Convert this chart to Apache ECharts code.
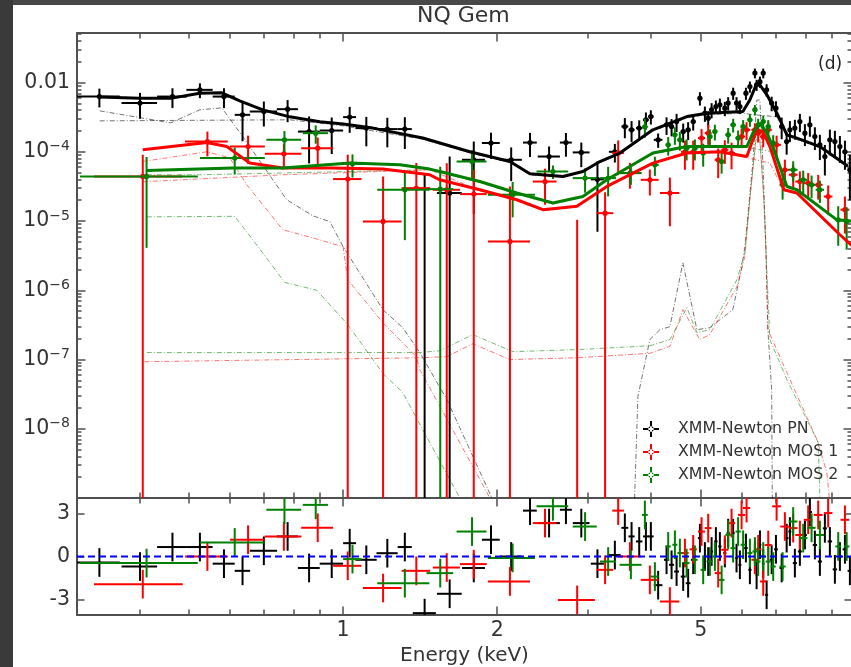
<!DOCTYPE html>
<html>
<head>
<meta charset="utf-8">
<title>NQ Gem</title>
<script src="https://cdn.jsdelivr.net/npm/echarts@6/dist/echarts.min.js"></script>
<style>
    html, body { margin: 0; padding: 0; background: #484848; }
    #strip { position: absolute; left: 0; top: 0; width: 13px; height: 667px; background: #3a3a3a; }
    #paper { position: absolute; left: 13px; top: 5px; width: 838px; height: 662px; background: #ffffff; }
    #chart { position: absolute; left: 0; top: 0; width: 851px; height: 667px; }
</style>
</head>
<body>
<div id="strip"></div>
<div id="paper"></div>
<div id="chart"></div>
<script>
// ---- axis ranges and tick labels ----
var xMin = 0.302, xMax = 9.87;
var fluxMin = 1e-9, fluxMax = 5.2e-3;
var resMin = -4.08, resMax = 4.08;

var energyTicks = [1, 2, 5];
var energyTickText = ['1', '2', '5'];
var energyMinor = [0.4, 0.5, 0.6, 0.7, 0.8, 0.9, 3, 4, 6, 7, 8, 9];
var fluxTicks = [1e-3, 1e-4, 1e-5, 1e-6, 1e-7, 1e-8];
var fluxTickText = ['0.01', '10^\u22124', '10^\u22125', '10^\u22126', '10^\u22127', '10^\u22128'];
var resTicks = [3, 0, -3];
var resTickText = ['3', '0', '-3'];

// ---- XMM-Newton PN (black) : energy, half bin width, flux, flux error, residual ----
var pnE = [0.334, 0.401, 0.464, 0.525, 0.585, 0.636, 0.70, 0.779, 0.858, 0.95, 1.03, 1.11, 1.22, 1.32, 1.443, 1.615, 1.80, 1.945, 2.13, 2.318, 2.526, 2.725, 2.92, 3.14,
    3.396, 3.552, 3.661, 3.789, 3.905, 3.993, 4.126, 4.285, 4.383, 4.483, 4.618, 4.722, 4.831, 4.979, 5.092, 5.168, 5.248, 5.35, 5.447, 5.57,
    5.654, 5.782, 5.871, 5.96, 6.124, 6.235, 6.377, 6.426, 6.523, 6.62, 6.722, 6.876, 7.01, 7.193, 7.356, 7.464, 7.633, 7.807, 7.985, 8.166,
    8.352, 8.542, 8.736, 8.935, 9.139, 9.347, 9.561, 9.777];
var pnDE = [0.032, 0.032, 0.031, 0.031, 0.029, 0.022, 0.043, 0.037, 0.042, 0.05, 0.03, 0.053, 0.058, 0.042, 0.075, 0.09, 0.093, 0.078, 0.105, 0.072, 0.126, 0.073, 0.11, 0.092,
    0.09, 0.055, 0.05, 0.055, 0.05, 0.05, 0.08, 0.05, 0.05, 0.05, 0.05, 0.05, 0.05, 0.045, 0.035, 0.035, 0.035, 0.04, 0.04, 0.04,
    0.04, 0.04, 0.035, 0.04, 0.05, 0.045, 0.035, 0.03, 0.04, 0.04, 0.045, 0.06, 0.06, 0.07, 0.06, 0.05, 0.07, 0.07, 0.07, 0.08,
    0.08, 0.08, 0.08, 0.09, 0.09, 0.09, 0.1, 0.1];
var pnF = [6.28e-4, 5.05e-4, 6.28e-4, 7.85e-4, 6.28e-4, 3.42e-4, 3.82e-4, 4.13e-4, 1.96e-4, 2.03e-4, 3.17e-4, 2.2e-4, 2.13e-4, 2.13e-4, 0, 2.54e-5, 7.67e-5, 1.34e-4, 7.67e-5, 1.36e-4, 8.55e-5, 1.36e-4, 9.8e-5, 4.0e-5,
    1.0e-4, 2.32e-4, 2.08e-4, 2.2e-4, 2.9e-4, 3.23e-4, 1.49e-4, 2.45e-4, 2.32e-4, 2.73e-4, 1.96e-4, 2.08e-4, 2.73e-4, 5.96e-4, 3.61e-4, 3.06e-4, 4.04e-4, 4.51e-4, 4.77e-4, 4.27e-4,
    5.05e-4, 7.03e-4, 5.05e-4, 4.51e-4, 7.03e-4, 8.75e-4, 1.37e-3, 9.27e-4, 1.03e-3, 1.37e-3, 7.85e-4, 5.05e-4, 4.27e-4, 2.32e-4, 1.41e-4, 2.08e-4, 2.2e-4, 2.73e-4, 1.86e-4, 2.45e-4,
    1.66e-4, 1.26e-4, 8.55e-5, 1.49e-4, 1.41e-4, 1.19e-4, 1.0e-4, 5.5e-5];
var pnErr = [1.9e-4, 2.05e-4, 2.0e-4, 1.9e-4, 2.0e-4, 2.0e-4, 1.5e-4, 1.45e-4, 1.28e-4, 1.1e-4, 1.29e-4, 1.0e-4, 0.97e-4, 1.03e-4, 4.66e-5, 6.0e-5, 6.4e-5, 5.5e-5, 3.9e-5, 5.2e-5, 3.4e-5, 5.1e-5, 3.8e-5, 3.3e-5,
    0.3e-4, 0.75e-4, 0.7e-4, 0.65e-4, 0.8e-4, 0.75e-4, 0.35e-4, 0.7e-4, 0.65e-4, 0.8e-4, 0.6e-4, 0.6e-4, 0.7e-4, 1.3e-4, 0.9e-4, 0.8e-4, 1.0e-4, 1.0e-4, 1.1e-4, 1.0e-4,
    1.1e-4, 1.4e-4, 1.1e-4, 1.0e-4, 1.4e-4, 1.6e-4, 2.2e-4, 1.7e-4, 1.9e-4, 2.2e-4, 1.6e-4, 1.2e-4, 1.1e-4, 0.8e-4, 0.5e-4, 0.7e-4, 0.7e-4, 0.8e-4, 0.65e-4, 0.8e-4,
    0.6e-4, 0.5e-4, 0.4e-4, 0.6e-4, 0.6e-4, 0.5e-4, 0.45e-4, 0.35e-4];
var pnRes = [-0.42, -0.7, 0.66, 0.66, -0.5, -1.0, 0.4, 1.4, -0.8, -0.5, 0.93, -0.23, 0.23, 0.66, -3.95, -2.6, -0.8, 1.17, 0, 3.2, 2.33, 3.26, 2.33, -0.5,
    0.1, 2.0, 1.4, 1.05, 1.4, 1.4, -2.0, -0.23, -0.58, -1.05, -1.4, -1.86, -0.23, 1.28, 0, -0.35, 0.35, 1.05, 0.7, 0.24,
    1.63, 1.63, -0.11, -0.58, 0.59, -0.93, 0, -1.28, 0.82, -0.5, -2.67, -0.23, 0.5, -0.8, 1.28, 1.74, -0.46, 0.35, 1.5, 3.1,
    0.8, -0.35, 1.96, 1.05, -0.9, 0.0, 0.5, -1.0];

// ---- XMM-Newton MOS 1 (red) ----
var m1E = [0.406, 0.543, 0.652, 0.766, 0.892, 1.021, 1.197, 1.39, 1.594, 1.80, 2.118, 2.48, 2.866, 3.25,
    3.447, 3.634, 3.975, 4.35, 4.654, 4.831, 5.016, 5.168, 5.406, 5.57, 5.741, 6.006, 6.142, 6.377, 6.471,
    6.62, 6.771, 7.031, 7.298, 7.575, 7.807, 8.104, 8.478, 8.866, 9.561];
var m1DE = [0.08, 0.052, 0.051, 0.063, 0.064, 0.065, 0.104, 0.089, 0.097, 0.108, 0.2, 0.132, 0.238, 0.122,
    0.09, 0.19, 0.16, 0.19, 0.08, 0.08, 0.08, 0.08, 0.085, 0.09, 0.09, 0.095, 0.1, 0.1, 0.1,
    0.1, 0.11, 0.14, 0.15, 0.15, 0.16, 0.16, 0.17, 0.17, 0.19];
var m1F = [4.41e-5, 1.41e-4, 1.19e-4, 9.36e-5, 1.13e-4, 4.04e-5, 9.87e-6, 2.99e-5, 2.83e-5, 2.45e-5, 5.08e-6, 3.72e-5, 0, 1.3e-5,
    9.6e-5, 4.93e-5, 3.94e-5, 2.54e-5, 1.0e-4, 1.0e-4, 1.58e-4, 1.86e-4, 7.67e-5, 1.07e-4, 9.6e-5, 1.66e-4, 2.08e-4, 2.08e-4, 1.86e-4,
    1.66e-4, 2.08e-4, 1.26e-4, 5.5e-5, 4.66e-5, 3.72e-5, 3.53e-5, 3.34e-5, 2.26e-5, 1.46e-5];
var m1Err = [4.65e-5, 5.5e-5, 5.2e-5, 3.7e-5, 4.8e-5, 5.0e-5, 3.4e-5, 3.9e-5, 4.0e-5, 3.05e-5, 2.65e-5, 2.0e-5, 1.04e-5, 1.3e-5,
    5e-5, 2.0e-5, 1.6e-5, 1.7e-5, 4.5e-5, 4.5e-5, 5.5e-5, 6e-5, 3.5e-5, 4e-5, 4e-5, 5e-5, 6e-5, 5e-5, 5e-5,
    5e-5, 6e-5, 4.5e-5, 2.2e-5, 1.8e-5, 1.5e-5, 1.4e-5, 1.3e-5, 1.0e-5, 0.8e-5];
var m1Res = [-1.93, 0, 1.17, 1.4, 2.0, -0.65, -2.2, -1.0, -0.77, -0.53, -1.74, 2.33, -3.03, -0.93,
    3.2, 0, -1.63, -3.14, 0.24, 0.5, 1.74, 1.98, -1.16, 0.47, 2.33, 2.9, 3.38, -0.23, 0.5,
    -1.74, 0.8, 3.5, 2.09, 1.98, 1.5, 2.56, 2.9, 3.03, 2.56];

// ---- XMM-Newton MOS 2 (green) ----
var m2E = [0.413, 0.614, 0.768, 0.884, 1.043, 1.32, 1.548, 1.786, 2.144, 2.57, 2.97, 3.295, 3.65, 3.887, 4.066,
    4.317, 4.449, 4.55, 4.69, 4.868, 5.053, 5.208, 5.326, 5.49, 5.654, 5.782, 5.913, 6.048, 6.235, 6.377,
    6.471, 6.62, 6.771, 6.924, 7.223, 7.575, 7.925, 8.229, 8.543, 9.277, 9.635];
var m2DE = [0.107, 0.089, 0.06, 0.05, 0.043, 0.154, 0.093, 0.12, 0.226, 0.183, 0.16, 0.12, 0.18, 0.05, 0.07,
    0.05, 0.05, 0.05, 0.06, 0.06, 0.06, 0.06, 0.06, 0.07, 0.07, 0.07, 0.07, 0.07, 0.07, 0.07,
    0.07, 0.07, 0.08, 0.08, 0.1, 0.15, 0.15, 0.15, 0.16, 0.12, 0.12];
var m2F = [4.41e-5, 8.11e-5, 1.49e-4, 1.86e-4, 6.71e-5, 2.83e-5, 2.89e-5, 7.24e-5, 2.4e-5, 5.2e-5, 4.17e-5, 4.17e-5, 4.93e-5, 2.3e-4, 6.49e-5,
    1.26e-4, 1.76e-4, 1.49e-4, 1.13e-4, 1.13e-4, 9.6e-5, 1.66e-4, 1.96e-4, 7.24e-5, 1.76e-4, 2.45e-4, 1.58e-4, 2.32e-4, 2.9e-4, 4.04e-4,
    2.45e-4, 2.73e-4, 2.32e-4, 1.34e-4, 3.34e-5, 5.5e-5, 3.94e-5, 3.34e-5, 2.83e-5, 1.04e-5, 9.87e-6];
var m2Err = [4.0e-5, 3.4e-5, 5e-5, 5.5e-5, 2.45e-5, 2.3e-5, 3.2e-5, 3.3e-5, 1.27e-5, 1.15e-5, 1.6e-5, 1.9e-5, 1.6e-5, 7e-5, 2.0e-5,
    3.8e-5, 5e-5, 4.5e-5, 3.8e-5, 3.8e-5, 3.5e-5, 4.5e-5, 5e-5, 2.4e-5, 4.5e-5, 5.5e-5, 4.5e-5, 5.5e-5, 6e-5, 7e-5,
    5.5e-5, 6e-5, 5.5e-5, 4e-5, 1.3e-5, 1.8e-5, 1.4e-5, 1.2e-5, 1.0e-5, 6e-6, 6e-6];
var m2Res = [-0.46, 0.98, 3.26, 3.6, -0.18, -1.86, -1.16, 1.74, -0.1, 3.5, 2.09, -0.35, -0.58, 2.9, -1.4,
    0.7, 0.82, 0.24, -0.46, -0.23, -0.93, -0.35, 0.0, -1.63, 1.51, 0.58, 1.74, 0.82, 0.24, 0.35,
    -0.35, 0.0, -0.35, -0.7, -0.7, 2.44, 1.28, 2.0, 1.5, 0.7, 0.7];

// ---- total models ----
var pnModelE = [0.3345, 0.4006, 0.4625, 0.5246, 0.5793, 0.6282, 0.6967, 0.7867, 0.9005, 1.0, 1.143, 1.431, 1.768, 2.118, 2.317, 2.688,
    2.941, 3.175, 3.474, 4.029, 4.696, 5.136, 6.041, 6.233, 6.433, 6.521, 6.73, 7.04, 7.364, 7.703, 8.543, 9.69];
var pnModel = [6.2e-4, 5.96e-4, 5.96e-4, 7.03e-4, 7.1e-4, 5.44e-4, 4.04e-4, 3.2e-4, 2.71e-4, 2.53e-4, 2.2e-4, 1.58e-4, 1.0e-4, 7.24e-5, 4.82e-5, 4.41e-5,
    5.2e-5, 7.24e-5, 9.6e-5, 2.08e-4, 3.23e-4, 3.61e-4, 3.82e-4, 5.6e-4, 9.8e-4, 9.27e-4, 6.65e-4, 3.61e-4, 1.76e-4, 1.58e-4, 1.19e-4, 6.2e-5];
var m1ModelE = [0.406, 0.5416, 0.5925, 0.6571, 0.7624, 0.9547, 1.196, 1.477, 1.545, 1.85, 2.185, 2.457, 2.862, 3.276, 4.029, 4.696,
    5.446, 6.15, 6.318, 6.433, 6.61, 6.821, 7.266, 7.703, 9.347, 9.866];
var m1Model = [1.07e-4, 1.36e-4, 1.19e-4, 6.87e-5, 5.82e-5, 5.82e-5, 5.63e-5, 4.66e-5, 3.94e-5, 2.83e-5, 2.03e-5, 1.46e-5, 1.63e-5, 3.16e-5, 6.87e-5, 9.6e-5,
    1.0e-4, 8.55e-5, 1.49e-4, 2.08e-4, 1.96e-4, 1.19e-4, 2.83e-5, 2.54e-5, 6.34e-6, 4.41e-6];
var m2ModelE = [0.4135, 0.6086, 0.7624, 1.031, 1.291, 1.477, 1.545, 1.85, 2.185, 2.57, 2.941, 3.276, 4.029, 4.696, 6.15, 6.318,
    6.521, 6.73, 6.914, 7.364, 7.703, 9.222, 9.866];
var m2Model = [5.37e-5, 5.82e-5, 5.82e-5, 6.87e-5, 6.49e-5, 5.63e-5, 5.2e-5, 3.72e-5, 2.54e-5, 1.82e-5, 2.26e-5, 3.94e-5, 9.6e-5, 1.19e-4, 1.19e-4, 1.86e-4,
    2.6e-4, 1.86e-4, 1.19e-4, 3.16e-5, 2.83e-5, 1.04e-5, 1.0e-5];

// ---- model components (soft, continuum, hard/line) ----
var pnSoftE = [0.3345, 0.4605, 0.5246, 0.5793, 0.637, 0.776, 0.8726, 0.9419, 1.0, 1.196, 1.308, 1.412, 1.595, 1.953, 2.0];
var pnSoft = [3.91e-4, 2.62e-4, 4.04e-4, 4.31e-4, 1.65e-4, 2.03e-5, 1.19e-5, 9.8e-6, 4.26e-6, 5.25e-7, 2.88e-7, 1.26e-7, 2.64e-8, 1.0e-9, 5e-10];
var pnContE = [0.3345, 0.7867, 1.0, 1.431, 1.768, 2.118, 2.317, 2.688, 2.941, 3.175, 3.474, 4.029, 4.696, 5.136, 6.041, 6.433, 7.04, 7.364, 7.703, 8.543, 9.69];
var pnCont = [2.8e-4, 2.9e-4, 2.37e-4, 1.52e-4, 9.7e-5, 7.0e-5, 4.66e-5, 4.3e-5, 5.1e-5, 7.0e-5, 9.3e-5, 2.0e-4, 3.1e-4, 3.45e-4, 3.6e-4, 3.4e-4, 3.2e-4, 1.7e-4, 1.5e-4, 1.14e-4, 6.0e-5];
var pnHardE = [3.70, 3.767, 3.975, 4.159, 4.35, 4.612, 4.912, 5.206, 5.774, 6.014, 6.095, 6.318, 6.433, 6.52, 6.61, 6.70, 6.76, 6.876, 6.9];
var pnHard = [5e-10, 2.92e-8, 1.94e-7, 2.7e-7, 2.98e-7, 2.49e-6, 2.7e-7, 2.88e-7, 5.25e-7, 2.19e-6, 4.26e-6, 6.94e-5, 5.6e-4, 5.6e-4, 6.94e-5, 4.26e-6, 2.7e-7, 3.68e-8, 5e-10];

var m1SoftE = [0.406, 0.5416, 0.6005, 0.6483, 0.7624, 0.8884, 1.0, 1.021, 1.196, 1.39, 1.412, 1.806, 1.935, 1.96];
var m1Soft = [7.24e-5, 1.0e-4, 8.2e-5, 3.34e-5, 7.5e-6, 5.5e-6, 4.26e-6, 1.42e-6, 3.4e-7, 1.1e-7, 7.15e-8, 2.57e-9, 1e-9, 5e-10];
var m1ContE = [0.406, 0.7624, 1.477, 1.85, 2.185, 2.457, 2.862, 3.276, 4.029, 4.696, 5.446, 6.15, 6.821, 7.266, 7.703, 9.347, 9.866];
var m1Cont = [3.69e-5, 4.66e-5, 5.5e-5, 2.74e-5, 1.96e-5, 1.41e-5, 1.6e-5, 3.1e-5, 6.7e-5, 9.4e-5, 9.8e-5, 8.2e-5, 6.9e-5, 2.74e-5, 2.5e-5, 6.1e-6, 4.26e-6];
var m1HardE = [0.409, 1.412, 1.595, 1.792, 2.118, 2.862, 3.975, 4.35, 4.612, 4.977, 5.206, 5.881, 6.095, 6.233, 6.404, 6.521, 6.64, 6.70, 6.76, 7.364, 8.429, 8.816, 8.936, 9.0];
var m1Hard = [9.3e-8, 1.06e-7, 1.1e-7, 1.69e-7, 1.0e-7, 1.06e-7, 1.23e-7, 1.55e-7, 5.25e-7, 1.94e-7, 2.29e-7, 1.13e-6, 3.05e-6, 2.03e-5, 1.49e-4, 1.49e-4, 2.03e-5, 3.85e-6, 2.7e-7, 6.47e-8, 6.98e-9, 2.33e-9, 8e-10, 5e-10];

var m2SoftE = [0.4135, 0.614, 0.666, 0.769, 0.8884, 1.021, 1.196, 1.308, 1.431, 1.691, 1.72];
var m2Soft = [1.15e-5, 1.17e-5, 5.37e-6, 1.3e-6, 1.0e-6, 3.2e-7, 6.3e-8, 3.33e-8, 9.7e-9, 1e-9, 5e-10];
var m2ContE = [0.4135, 0.5246, 1.477, 1.85, 2.185, 2.57, 2.941, 3.276, 4.029, 4.696, 6.15, 6.914, 7.364, 7.703, 9.222, 9.866];
var m2Cont = [4.66e-5, 4.66e-5, 5.5e-5, 3.6e-5, 2.45e-5, 1.76e-5, 2.2e-5, 3.8e-5, 9.3e-5, 1.15e-4, 1.15e-4, 1.0e-4, 3.1e-5, 2.75e-5, 1.0e-5, 9.7e-6];
var m2HardE = [0.4135, 1.412, 1.545, 1.792, 2.146, 2.862, 3.975, 4.35, 4.696, 4.912, 5.206, 5.881, 6.095, 6.233, 6.404, 6.521, 6.64, 6.70, 6.821, 7.364, 8.48, 8.543, 8.6];
var m2Hard = [1.26e-7, 1.26e-7, 1.34e-7, 2.29e-7, 1.3e-7, 1.39e-7, 1.58e-7, 1.94e-7, 5.6e-7, 2.44e-7, 2.7e-7, 1.42e-6, 3.5e-6, 2.03e-5, 1.49e-4, 1.49e-4, 2.03e-5, 3.85e-6, 1.94e-7, 5.13e-8, 6.32e-9, 1e-9, 5e-10];

// ---- styling ----
var FONT = 'DejaVu Sans';
var axisColor = '#505050';
var textColor = '#333333';
var cBlack = '#000000', cRed = '#ff0000', cGreen = '#008000';

var chart = echarts.init(document.getElementById('chart'), null, { renderer: 'canvas' });

// minor ticks of the flux axis: 2..9 x 10^n
var fluxMajor = [1e-9, 1e-8, 1e-7, 1e-6, 1e-5, 1e-4, 1e-3];
var fluxMinor = [];
for (var p = -9; p <= -3; p++) {
    for (var k = 2; k <= 9; k++) {
        var v = k * Math.pow(10, p);
        if (v < fluxMax) fluxMinor.push(v);
    }
}

function tickOpts(vals, len) {
    return { show: true, inside: true, length: len, customValues: vals, lineStyle: { color: axisColor, width: 1.5 } };
}

function pickText(v, ticks, texts) {
    for (var i = 0; i < ticks.length; i++) {
        if (Math.abs(v - ticks[i]) < 1e-9 * Math.max(1, Math.abs(ticks[i])) ||
            (ticks[i] > 0 && v > 0 && Math.abs(Math.log10(v / ticks[i])) < 1e-4)) return texts[i];
    }
    return '';
}

function energyAxis(grid, pos, vals, len, withLine, withLabels) {
    var ax = {
        type: 'log', logBase: 10, gridIndex: grid, position: pos, min: xMin, max: xMax,
        axisLine: { show: withLine, onZero: false, lineStyle: { color: axisColor, width: 2 } },
        axisTick: tickOpts(vals, len),
        splitLine: { show: false },
        axisLabel: { show: false }
    };
    if (withLabels) {
        ax.axisLabel = {
            show: true, customValues: energyTicks, margin: 5,
            fontFamily: FONT, fontSize: 20.5, color: textColor,
            formatter: function (v) { return pickText(v, energyTicks, energyTickText); }
        };
        ax.name = 'Energy (keV)';
        ax.nameLocation = 'middle';
        ax.nameGap = 31;
        ax.nameTextStyle = { fontFamily: FONT, fontSize: 20, color: textColor };
    }
    return ax;
}

function fluxAxis(pos, vals, len, withLine, withLabels) {
    var ax = {
        type: 'log', logBase: 10, gridIndex: 0, position: pos, min: fluxMin, max: fluxMax,
        axisLine: { show: withLine, onZero: false, lineStyle: { color: axisColor, width: 2 } },
        axisTick: tickOpts(vals, len),
        splitLine: { show: false },
        axisLabel: { show: false }
    };
    if (withLabels) {
        ax.axisLabel = {
            show: true, customValues: fluxTicks, margin: 7,
            fontFamily: FONT, fontSize: 20.5, color: textColor,
            formatter: function (v) {
                var t = pickText(v, fluxTicks, fluxTickText).split('^');
                return t.length > 1 ? '{b|' + t[0] + '}{s|' + t[1] + '}' : '{b|' + t[0] + '}';
            },
            rich: {
                b: { fontFamily: FONT, fontSize: 20.5, color: textColor, lineHeight: 24 },
                s: { fontFamily: FONT, fontSize: 14, color: textColor, lineHeight: 14, verticalAlign: 'top' }
            }
        };
    }
    return ax;
}

function resAxis(pos, withLabels) {
    var ax = {
        type: 'value', gridIndex: 1, position: pos, min: resMin, max: resMax,
        axisLine: { show: true, onZero: false, lineStyle: { color: axisColor, width: 2 } },
        axisTick: tickOpts(resTicks, 7.5),
        splitLine: { show: false },
        axisLabel: { show: false }
    };
    if (withLabels) {
        ax.axisLabel = {
            show: true, customValues: resTicks, margin: 7,
            fontFamily: FONT, fontSize: 20.5, color: textColor,
            formatter: function (v) { return pickText(v, resTicks, resTickText); }
        };
    }
    return ax;
}

// error bar cross with a dot, flux panel
function renderFlux(params, api) {
    var e = api.value(0), de = api.value(1), f = api.value(2), err = api.value(3);
    var color = api.visual('color');
    var hi = api.coord([e, f + err]);
    var lo = api.coord([e, Math.max(f - err, fluxMin * 1e-3)]);
    var kids = [{ type: 'line', shape: { x1: hi[0], y1: hi[1], x2: lo[0], y2: lo[1] }, style: { stroke: color, lineWidth: 2 } }];
    if (f > 0) {
        var a = api.coord([e - de, f]), b = api.coord([e + de, f]), c = api.coord([e, f]);
        kids.push({ type: 'line', shape: { x1: a[0], y1: a[1], x2: b[0], y2: b[1] }, style: { stroke: color, lineWidth: 2 } });
        kids.push({ type: 'circle', shape: { cx: c[0], cy: c[1], r: 2.6 }, style: { fill: color } });
    }
    return { type: 'group', children: kids };
}

// residuals are in units of sigma, so every vertical bar spans +-1
function renderResid(params, api) {
    var e = api.value(0), de = api.value(1), r = api.value(2);
    var color = api.visual('color');
    var hi = api.coord([e, r + 1]), lo = api.coord([e, r - 1]);
    var a = api.coord([e - de, r]), b = api.coord([e + de, r]);
    return {
        type: 'group', children: [
            { type: 'line', shape: { x1: hi[0], y1: hi[1], x2: lo[0], y2: lo[1] }, style: { stroke: color, lineWidth: 2 } },
            { type: 'line', shape: { x1: a[0], y1: a[1], x2: b[0], y2: b[1] }, style: { stroke: color, lineWidth: 2 } }
        ]
    };
}

function zip2(xs, ys) { return xs.map(function (x, i) { return [x, ys[i]]; }); }

function compLine(xs, ys, color) {
    return {
        type: 'line', xAxisIndex: 0, yAxisIndex: 0, data: zip2(xs, ys), showSymbol: false, silent: true, z: 1,
        lineStyle: { color: color, width: 1, type: [5, 2, 1, 2], opacity: 0.55 }
    };
}

function modelLine(xs, ys, color) {
    return {
        type: 'line', xAxisIndex: 0, yAxisIndex: 0, data: zip2(xs, ys), showSymbol: false, silent: true, z: 4,
        lineStyle: { color: color, width: 3 }
    };
}

function fluxSeries(name, color, es, des, fs, errs) {
    return {
        name: name, type: 'custom', xAxisIndex: 0, yAxisIndex: 0, clip: true, z: 3,
        itemStyle: { color: color },
        encode: { x: 0, y: 2 },
        data: es.map(function (e, i) { return [e, des[i], fs[i], errs[i]]; }),
        renderItem: renderFlux
    };
}

function residSeries(name, color, es, des, rs) {
    return {
        name: name, type: 'custom', xAxisIndex: 4, yAxisIndex: 4, clip: true, z: 3,
        itemStyle: { color: color },
        encode: { x: 0, y: 2 },
        data: es.map(function (e, i) { return [e, des[i], rs[i]]; }),
        renderItem: renderResid
    };
}

var plusIcon = 'path://M7,0L9,0L9,7L16,7L16,9L9,9L9,16L7,16L7,9L0,9L0,7L7,7Z M5.3,8A2.7,2.7,0,1,0,10.7,8A2.7,2.7,0,1,0,5.3,8Z';

var option = {
    animation: false,
    backgroundColor: 'transparent',
    title: {
        text: 'NQ Gem', left: 417, top: 5, padding: 0,
        textStyle: { fontFamily: FONT, fontSize: 22, fontWeight: 'normal', color: textColor }
    },
    legend: {
        data: [
            { name: 'XMM-Newton PN', icon: plusIcon },
            { name: 'XMM-Newton MOS 1', icon: plusIcon },
            { name: 'XMM-Newton MOS 2', icon: plusIcon }
        ],
        orient: 'vertical', left: 643, top: 421, padding: 0,
        itemWidth: 16, itemHeight: 16, itemGap: 7, selectedMode: false,
        textStyle: { fontFamily: FONT, fontSize: 15.8, color: textColor, padding: [0, 0, 0, 14] }
    },
    graphic: [
        { type: 'text', left: 818, top: 56, style: { text: '(d)', font: '17px "DejaVu Sans"', fill: '#222' } }
    ],
    grid: [
        { left: 77, top: 33, width: 775, height: 465, outerBoundsMode: 'none' },
        { left: 77, top: 498, width: 775, height: 117, outerBoundsMode: 'none' }
    ],
    xAxis: [
        energyAxis(0, 'bottom', energyTicks, 8.5, true, false),
        energyAxis(0, 'bottom', energyMinor, 5.5, false, false),
        energyAxis(0, 'top', energyTicks, 8.5, true, false),
        energyAxis(0, 'top', energyMinor, 5.5, false, false),
        energyAxis(1, 'bottom', energyTicks, 8.5, true, true),
        energyAxis(1, 'bottom', energyMinor, 5.5, false, false),
        energyAxis(1, 'top', energyTicks, 8.5, true, false),
        energyAxis(1, 'top', energyMinor, 5.5, false, false)
    ],
    yAxis: [
        fluxAxis('left', fluxMajor, 8.5, true, true),
        fluxAxis('left', fluxMinor, 4.5, false, false),
        fluxAxis('right', fluxMajor, 8.5, true, false),
        fluxAxis('right', fluxMinor, 4.5, false, false),
        resAxis('left', true),
        resAxis('right', false)
    ],
    series: [
        compLine(pnSoftE, pnSoft, cBlack),
        compLine(pnContE, pnCont, cBlack),
        compLine(pnHardE, pnHard, cBlack),
        compLine(m1SoftE, m1Soft, cRed),
        compLine(m1ContE, m1Cont, cRed),
        compLine(m1HardE, m1Hard, cRed),
        compLine(m2SoftE, m2Soft, cGreen),
        compLine(m2ContE, m2Cont, cGreen),
        compLine(m2HardE, m2Hard, cGreen),
        fluxSeries('XMM-Newton PN', cBlack, pnE, pnDE, pnF, pnErr),
        fluxSeries('XMM-Newton MOS 1', cRed, m1E, m1DE, m1F, m1Err),
        fluxSeries('XMM-Newton MOS 2', cGreen, m2E, m2DE, m2F, m2Err),
        modelLine(pnModelE, pnModel, cBlack),
        modelLine(m1ModelE, m1Model, cRed),
        modelLine(m2ModelE, m2Model, cGreen),
        residSeries('PN residual', cBlack, pnE, pnDE, pnRes),
        residSeries('MOS 1 residual', cRed, m1E, m1DE, m1Res),
        residSeries('MOS 2 residual', cGreen, m2E, m2DE, m2Res),
        {
            type: 'line', xAxisIndex: 4, yAxisIndex: 4, data: [[xMin, 0], [xMax, 0]],
            showSymbol: false, silent: true, z: 5,
            lineStyle: { color: '#0000ff', width: 2, type: [7, 4] }
        }
    ]
};

chart.setOption(option);
</script>
</body>
</html>
